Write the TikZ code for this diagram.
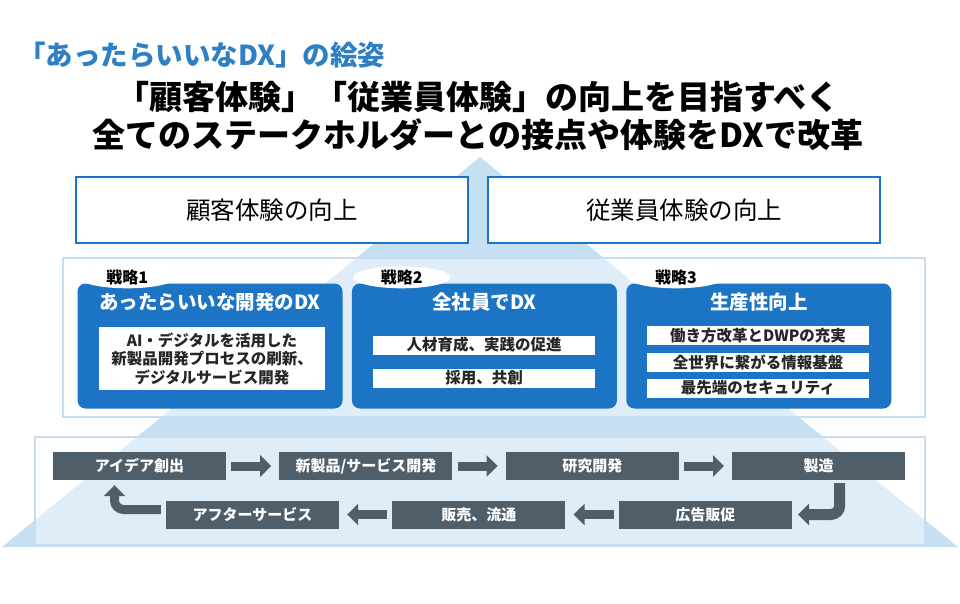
\documentclass[tikz,border=0pt]{standalone}
\usepackage{fontspec}
\setmainfont{Noto Sans CJK JP}
\usetikzlibrary{arrows.meta,positioning,shapes.geometric}

\definecolor{dxblue}{HTML}{1B74C4}
\definecolor{titleblue}{HTML}{2F80C3}
\definecolor{pyrblue}{HTML}{C6E0F3}
\definecolor{bandline}{HTML}{C8DDEF}
\definecolor{procgray}{HTML}{505E69}

\begin{document}
\begin{tikzpicture}[x=1pt,y=-1pt,
  goal/.style={draw=dxblue,line width=2pt,fill=white,minimum width=392pt,minimum height=66pt,font=\fontsize{24.5}{24.5}\selectfont},
  band/.style={draw=bandline,line width=1.5pt,fill=white,fill opacity=.45},
  strat/.style={fill=dxblue,rounded corners=8pt,minimum width=265pt,minimum height=125pt,inner sep=0pt},
  tag/.style={ellipse,fill=white,minimum width=97pt,minimum height=22pt,inner sep=0pt,font=\bfseries\fontsize{16}{16}\selectfont},
  head/.style={text=white,inner sep=0pt,font=\bfseries\fontsize{19.5}{19.5}\selectfont},
  bar/.style={fill=white,minimum width=222pt,minimum height=19pt,inner sep=0pt,text=black!85,font=\bfseries\fontsize{15.5}{15.5}\selectfont},
  proc/.style={fill=procgray,text=white,minimum width=173pt,minimum height=28pt,inner sep=0pt,font=\bfseries\fontsize{15}{15}\selectfont},
  flow/.style={draw=procgray,line width=9pt,-{Triangle[length=11pt,width=21pt]}}
]
\useasboundingbox (0,0) rectangle (960,604);

% pyramid behind everything
\fill[pyrblue] (480,157) -- (958,547) -- (2,547) -- cycle;

% headline
\node[anchor=west,inner sep=0pt,text=titleblue,font=\bfseries\fontsize{27.5}{27.5}\selectfont] (ttl) at (18,55) {「あったらいいなDX」の絵姿};
\node[align=center,inner sep=0pt,font=\bfseries\fontsize{33}{38}\selectfont] (lead) at (478,116)
  {「顧客体験」「従業員体験」の向上を目指すべく\\全てのステークホルダーとの接点や体験をDXで改革};

% goals
\node[goal] (cx) at (272,210) {顧客体験の向上};
\node[goal] (ex) at (684,210) {従業員体験の向上};

% strategies
\draw[band] (63,258) rectangle (925,417);
\node[strat] (s1) at (210,346) {};
\node[strat,right=9pt of s1] (s2) {};
\node[strat,right=9pt of s2] (s3) {};
\node[tag] (t1) at ([xshift=50pt,yshift=6pt]s1.north west) {戦略1};
\node[tag] (t2) at ([xshift=50pt,yshift=6pt]s2.north west) {戦略2};
\node[tag] (t3) at ([xshift=50pt,yshift=6pt]s3.north west) {戦略3};
\node[head] (h1) at ([yshift=-19pt]s1.north) {あったらいいな開発のDX};
\node[head] (h2) at ([yshift=-19pt]s2.north) {全社員でDX};
\node[head] (h3) at ([yshift=-19pt]s3.north) {生産性向上};
\node[bar,minimum width=226pt,minimum height=63pt,align=center,font=\bfseries\fontsize{15.5}{18.5}\selectfont] (b11) at (212,358.5)
  {AI・デジタルを活用した\\新製品開発プロセスの刷新、\\デジタルサービス開発};
\node[bar] (b21) at (484,345) {人材育成、実践の促進};
\node[bar] (b22) at (484,378) {採用、共創};
\node[bar] (b31) at (758,335.5) {働き方改革とDWPの充実};
\node[bar] (b32) at (758,362) {全世界に繋がる情報基盤};
\node[bar] (b33) at (758,388) {最先端のセキュリティ};

% value chain
\draw[band] (35,437) rectangle (925,545);
\node[proc] (p1) at (139.5,466) {アイデア創出};
\node[proc,right=53pt of p1] (p2) {新製品/サービス開発};
\node[proc,right=53pt of p2] (p3) {研究開発};
\node[proc,right=53pt of p3] (p4) {製造};
\node[proc] (q1) at (252.5,514.5) {アフターサービス};
\node[proc,right=53pt of q1] (q2) {販売、流通};
\node[proc,right=53pt of q2] (q3) {広告販促};

\draw[flow] ([xshift=5pt]p1.east) -- ([xshift=-8pt]p2.west);
\draw[flow] ([xshift=5pt]p2.east) -- ([xshift=-8pt]p3.west);
\draw[flow] ([xshift=5pt]p3.east) -- ([xshift=-8pt]p4.west);
\draw[flow,line width=11pt,rounded corners=9pt] ([xshift=21pt,yshift=-3pt]p4.south) |- ([xshift=6pt]q3.east);
\draw[flow] ([xshift=-5pt]q3.west) -- ([xshift=8pt]q2.east);
\draw[flow] ([xshift=-5pt]q2.west) -- ([xshift=8pt]q1.east);
\draw[flow,rounded corners=9pt] ([xshift=-5pt,yshift=5pt]q1.west) -| ([xshift=-25pt,yshift=-5pt]p1.south);
\end{tikzpicture}
\end{document}
